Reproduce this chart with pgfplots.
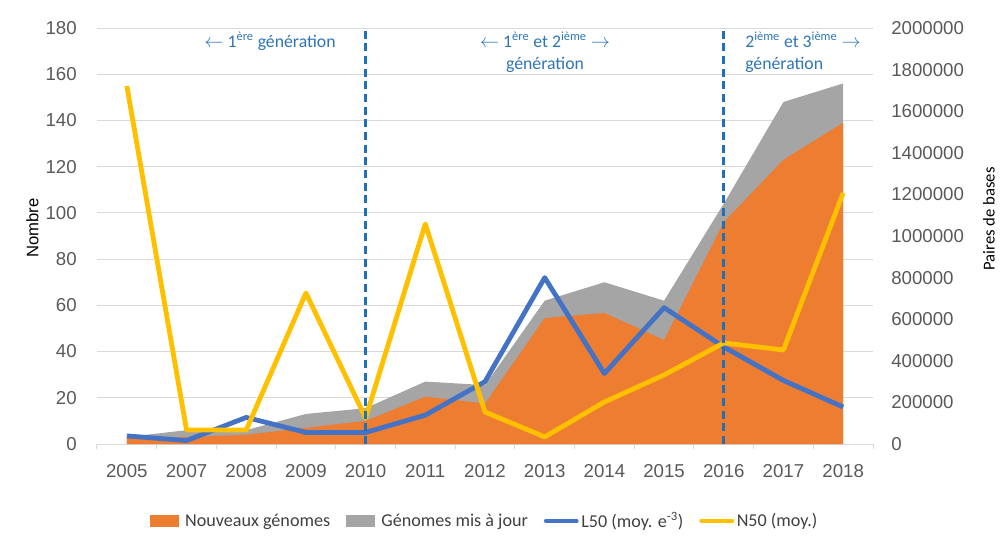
\documentclass[border=0pt]{standalone}
\usepackage{fontspec}
\setmainfont{Carlito}
\newfontfamily\arialf{Liberation Sans}
\usepackage{pgfplots}
\pgfplotsset{compat=1.18}
\definecolor{cOrange}{HTML}{ED7D31}
\definecolor{cGrey}{HTML}{A5A5A5}
\definecolor{cBlue}{HTML}{4472C4}
\definecolor{cYellow}{HTML}{FFC000}
\definecolor{cAnn}{HTML}{2E75B6}
\definecolor{cDash}{HTML}{1F70B8}
\definecolor{cGrid}{HTML}{D9D9D9}
\definecolor{cTick}{HTML}{595959}
\definecolor{cLeg}{HTML}{404040}
\begin{document}
\begin{tikzpicture}[x=0.75pt,y=0.75pt]
\useasboundingbox (0,0) rectangle (1003,544);
\begin{axis}[
  at={(72.75pt,75pt)}, anchor=south west, scale only axis,
  width=582pt, height=312pt,
  xmin=-0.5, xmax=12.5, ymin=0, ymax=180,
  xtick={0,...,12},
  xticklabels={2005,2007,2008,2009,2010,2011,2012,2013,2014,2015,2016,2017,2018},
  minor xtick={-0.5,0.5,...,12.5},
  ytick={0,20,...,180},
  ymajorgrids, grid style={cGrid, line width=0.75pt},
  axis x line*=bottom, axis y line*=left,
  x axis line style={cGrid, line width=0.75pt, -},
  y axis line style={draw=none},
  major tick length=0pt, minor tick length=3.75pt, tick align=outside,
  minor tick style={cGrid, line width=0.75pt},
  major tick style={draw=none},
  /pgf/number format/assume math mode=true,
  ticklabel style={font=\arialf\fontsize{14}{16}\selectfont, text=cTick},
  yticklabel style={anchor=east, inner sep=0pt, xshift=-15pt},
  xticklabel style={anchor=north, inner sep=0pt, yshift=-15.5pt},
  legend columns=4,
  legend style={draw=none, fill=none, at={(0.5,-0.185)}, anchor=center,
    font=\fontsize{13.6}{16}\selectfont, text=cLeg,
    /tikz/every even column/.append style={column sep=10pt}},
]
\addplot[fill=cGrey, draw=none, forget plot] coordinates {
 (0,3) (1,6) (2,6) (3,13) (4,15.5) (5,27) (6,25.5) (7,62) (8,70) (9,62) (10,104) (11,148) (12,156)} \closedcycle;
\addplot[fill=cOrange, draw=none, forget plot] coordinates {
 (0,2.5) (1,3) (2,4) (3,7) (4,10) (5,20.5) (6,17.5) (7,54.5) (8,56.7) (9,45) (10,96) (11,123) (12,139)} \closedcycle;
\addplot[cBlue, line width=3.6pt, line join=round, forget plot] coordinates {
 (0,3.5) (1,1.5) (2,11.5) (3,5) (4,5) (5,12.5) (6,27) (7,72) (8,30.5) (9,59) (10,42) (11,27.5) (12,16)};
\addlegendimage{legend image code/.code={\fill[cOrange] (0pt,-4.1pt) rectangle (21pt,4.1pt); \path (24pt,0pt);}}
\addlegendentry{Nouveaux génomes}
\addlegendimage{legend image code/.code={\fill[cGrey] (0pt,-4.1pt) rectangle (21pt,4.1pt); \path (24pt,0pt);}}
\addlegendentry{Génomes mis à jour}
\addlegendimage{legend image code/.code={\draw[cBlue, line width=3pt, line cap=round] (0pt,0pt) -- (23pt,0pt);}}
\addlegendentry{L50 (moy. e\textsuperscript{-3})}
\addlegendimage{legend image code/.code={\draw[cYellow, line width=3pt, line cap=round] (0pt,0pt) -- (23pt,0pt);}}
\addlegendentry{N50 (moy.)}
\end{axis}
\begin{axis}[
  at={(72.75pt,75pt)}, anchor=south west, scale only axis,
  width=582pt, height=312pt,
  xmin=-0.5, xmax=12.5, ymin=0, ymax=2000000,
  axis x line=none, axis y line*=right,
  y axis line style={draw=none},
  scaled y ticks=false,
  ytick={0,200000,400000,600000,800000,1000000,1200000,1400000,1600000,1800000,2000000},
  yticklabels={0,200000,400000,600000,800000,1000000,1200000,1400000,1600000,1800000,2000000},
  major tick length=0pt, major tick style={draw=none},
  ticklabel style={font=\arialf\fontsize{14}{16}\selectfont, text=cTick},
  yticklabel style={anchor=west, inner sep=0pt, xshift=13.5pt},
]
\addplot[cYellow, line width=3.6pt, line join=round] coordinates {
 (0,1721000) (1,67000) (2,67000) (3,726000) (4,125000) (5,1058000) (6,154000) (7,34000) (8,202000) (9,332000) (10,486000) (11,452000) (12,1207000)};
\draw[cDash, line width=2pt, dash pattern=on 6pt off 3.5pt] (axis cs:4,0) -- (axis cs:4,2000000);
\draw[cDash, line width=2pt, dash pattern=on 6pt off 3.5pt] (axis cs:10,0) -- (axis cs:10,2000000);
\end{axis}
\node[font=\arialf\fontsize{12.5}{14}\selectfont, rotate=90] at (32.5,316) {Nombre};
\node[font=\fontsize{12.5}{14}\selectfont, rotate=90] at (989,325) {Paires de bases};
\begin{scope}[every node/.style={font=\fontsize{13.3}{16.5}\selectfont, text=cAnn}]
\node at (270,503) {$\leftarrow$ 1\textsuperscript{ère} génération};
\node[align=center] at (545,492) {$\leftarrow$ 1\textsuperscript{ère} et 2\textsuperscript{ième} $\rightarrow$\\génération};
\node[align=left, anchor=west, inner sep=0pt] at (745,492) {2\textsuperscript{ième} et 3\textsuperscript{ième} $\rightarrow$\\génération};
\end{scope}
\end{tikzpicture}
\end{document}
